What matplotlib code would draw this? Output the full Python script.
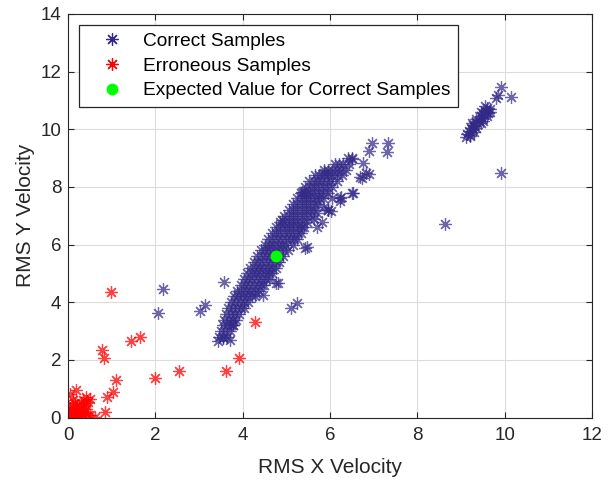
import matplotlib
matplotlib.use("Agg")
import matplotlib.pyplot as plt

# dense band of correct samples, read row by row (y: list of x centres)
band_rows = {
    2.8: [3.46, 3.55, 3.64],
    3.0: [3.50, 3.60, 3.70],
    3.2: [3.54, 3.64, 3.74, 3.78],
    3.4: [3.58, 3.68, 3.78, 3.84],
    3.6: [3.62, 3.72, 3.82, 3.91],
    3.8: [3.66, 3.76, 3.86, 3.96, 4.03],
    4.0: [3.73, 3.83, 3.93, 4.03, 4.13],
    4.2: [3.80, 3.90, 4.00, 4.10, 4.20, 4.27],
    4.4: [3.87, 3.97, 4.07, 4.17, 4.27, 4.38],
    4.6: [3.95, 4.05, 4.15, 4.25, 4.35, 4.45, 4.49],
    4.8: [4.02, 4.12, 4.22, 4.32, 4.42, 4.52, 4.59],
    5.0: [4.10, 4.20, 4.30, 4.40, 4.50, 4.60, 4.67],
    5.2: [4.17, 4.27, 4.37, 4.47, 4.57, 4.67, 4.75],
    5.4: [4.25, 4.35, 4.45, 4.55, 4.65, 4.75, 4.82],
    5.6: [4.33, 4.43, 4.53, 4.63, 4.73, 4.83, 4.92],
    5.8: [4.41, 4.51, 4.61, 4.71, 4.81, 4.91, 5.03],
    6.0: [4.50, 4.60, 4.70, 4.80, 4.90, 5.00, 5.14],
    6.2: [4.58, 4.68, 4.78, 4.88, 4.98, 5.08, 5.18, 5.25],
    6.4: [4.66, 4.76, 4.86, 4.96, 5.06, 5.16, 5.26, 5.33],
    6.6: [4.76, 4.86, 4.96, 5.06, 5.16, 5.26, 5.36, 5.41],
    6.8: [4.85, 4.95, 5.05, 5.15, 5.25, 5.35, 5.48],
    7.0: [4.95, 5.05, 5.15, 5.25, 5.35, 5.45, 5.57],
    7.2: [5.05, 5.15, 5.25, 5.35, 5.45, 5.55, 5.64],
    7.4: [5.15, 5.25, 5.35, 5.45, 5.55, 5.65, 5.73],
    7.6: [5.25, 5.35, 5.45, 5.55, 5.65, 5.75, 5.83],
    7.8: [5.34, 5.44, 5.54, 5.64, 5.74, 5.84, 5.95],
    8.0: [5.43, 5.53, 5.63, 5.73, 5.83, 5.93, 6.05],
    8.2: [5.52, 5.62, 5.72, 5.82, 5.92, 6.02, 6.16],
    8.4: [5.65, 5.75, 5.85, 5.95, 6.05, 6.15, 6.27],
    8.6: [5.85, 5.95, 6.05, 6.15, 6.25, 6.36],
    8.8: [6.10, 6.20, 6.30, 6.43],
    9.0: [6.40, 6.50],
}

# scattered correct samples
scatter_x = [3.58, 2.17, 2.06, 3.01, 3.13, 5.10, 5.25, 4.80, 5.42, 8.62,
             9.92, 6.95, 7.33, 6.90, 7.30, 6.50, 6.75, 6.88, 6.72, 6.53,
             6.22, 6.25, 6.01, 5.82, 5.41, 5.86, 5.35, 5.95, 3.71, 3.44,
             4.76, 4.47, 3.77, 3.54, 5.46, 5.69, 5.95, 6.22, 6.49, 6.68,
             6.83, 4.89, 5.62, 5.70, 5.85, 6.05]
scatter_y = [4.72, 4.45, 3.62, 3.68, 3.91, 3.79, 3.99, 4.68, 5.87, 6.70,
             8.47, 9.52, 9.52, 9.26, 9.22, 8.98, 8.84, 8.45, 8.32, 7.78,
             7.52, 7.66, 7.18, 6.80, 7.84, 8.47, 7.84, 7.20, 2.69, 2.64,
             4.66, 4.25, 3.21, 2.76, 5.93, 6.62, 7.20, 7.61, 7.78, 8.36,
             8.47, 6.85, 6.90, 7.10, 7.30, 7.60]

# upper right group of correct samples
upper_x = [9.10, 9.14, 9.18, 9.22, 9.26, 9.30, 9.34, 9.40, 9.45, 9.50,
           9.55, 9.60, 9.52, 9.48, 9.58, 9.62, 9.20, 9.28, 9.65, 9.80,
           9.85, 9.92, 10.15, 9.20, 9.30, 9.35, 9.45, 9.50, 9.60, 9.65,
           9.25, 9.35, 9.45, 9.55]
upper_y = [9.72, 9.85, 9.95, 10.05, 10.15, 10.10, 10.25, 10.30, 10.45, 10.55,
           10.65, 10.75, 10.50, 10.40, 10.60, 10.55, 9.80, 10.00, 10.70, 11.10,
           11.20, 11.45, 11.12, 9.75, 9.90, 10.05, 10.20, 10.30, 10.45, 10.60,
           10.20, 10.35, 10.60, 10.80]

# erroneous samples
err_x = [0.98, 0.78, 0.83, 1.43, 1.65, 1.10, 1.03, 0.88, 0.84, 0.61,
         1.99, 2.55, 3.62, 3.91, 4.28, 0.19, 0.04,
         0.05, 0.10, 0.15, 0.20, 0.10, 0.05, 0.15, 0.25, 0.30, 0.35,
         0.40, 0.45, 0.50, 0.25, 0.35, 0.45, 0.20, 0.10, 0.30, 0.05,
         0.15, 0.02, 0.40, 0.30, 0.50, 0.20, 0.12, 0.35, 0.42, 0.00,
         0.08, 0.18, 0.28, 0.38]
err_y = [4.37, 2.35, 2.06, 2.64, 2.79, 1.31, 0.90, 0.73, 0.21, 0.03,
         1.39, 1.60, 1.60, 2.06, 3.33, 0.96, 0.81,
         0.05, 0.10, 0.05, 0.15, 0.25, 0.35, 0.30, 0.25, 0.35, 0.40,
         0.50, 0.55, 0.65, 0.05, 0.10, 0.10, 0.40, 0.45, 0.15, 0.15,
         0.50, 0.02, 0.30, 0.50, 0.10, 0.00, 0.60, 0.60, 0.70, 0.20,
         0.20, 0.22, 0.05, 0.20]

expected_x = [4.76]
expected_y = [5.61]

band_x = [x for y, xs in band_rows.items() for x in xs]
band_y = [y for y, xs in band_rows.items() for x in xs]
correct_x = band_x + scatter_x + upper_x
correct_y = band_y + scatter_y + upper_y

blue = "#332a87"
ast = (8, 2, 0)  # MATLAB style asterisk

plt.rcParams["font.family"] = ["Liberation Sans", "DejaVu Sans"]
fig = plt.figure(figsize=(6.08, 4.8), dpi=100)
ax = fig.add_axes([0.112, 0.130, 0.862, 0.841])

ax.plot(correct_x, correct_y, linestyle="none", marker=ast, ms=9, mew=0.9,
        color=blue, alpha=0.72, label="Correct Samples")
ax.plot(err_x, err_y, linestyle="none", marker=ast, ms=9, mew=0.9,
        color="red", alpha=0.75, label="Erroneous Samples")
ax.plot(expected_x, expected_y, linestyle="none", marker="o", ms=7.5,
        color="#00ff00", label="Expected Value for Correct Samples")

ax.set_xlim(0, 12)
ax.set_ylim(0, 14)
ax.set_xticks(range(0, 13, 2))
ax.set_yticks(range(0, 15, 2))
ax.grid(True, color="#dcdcdc", linewidth=0.8)
ax.set_axisbelow(True)
ax.tick_params(direction="in", top=True, right=True, labelsize=13.5,
               colors="#262626", length=4)
ax.tick_params(axis="x", pad=7)
ax.tick_params(axis="y", pad=5)
for s in ax.spines.values():
    s.set_color("#262626")
    s.set_linewidth(0.8)
ax.set_xlabel("RMS X Velocity", fontsize=15, color="#262626", labelpad=10)
ax.set_ylabel("RMS Y Velocity", fontsize=15, color="#262626", labelpad=4)

leg = ax.legend(loc="upper left", bbox_to_anchor=(0.020, 0.973), fontsize=13.8,
                borderaxespad=0, fancybox=False, framealpha=1,
                edgecolor="#262626", handlelength=2.7, handletextpad=0.27,
                borderpad=0.4, labelspacing=0.38)
leg.get_frame().set_linewidth(0.9)
for h in leg.legend_handles:
    h.set_alpha(1)

fig.savefig("out.png", dpi=100)
